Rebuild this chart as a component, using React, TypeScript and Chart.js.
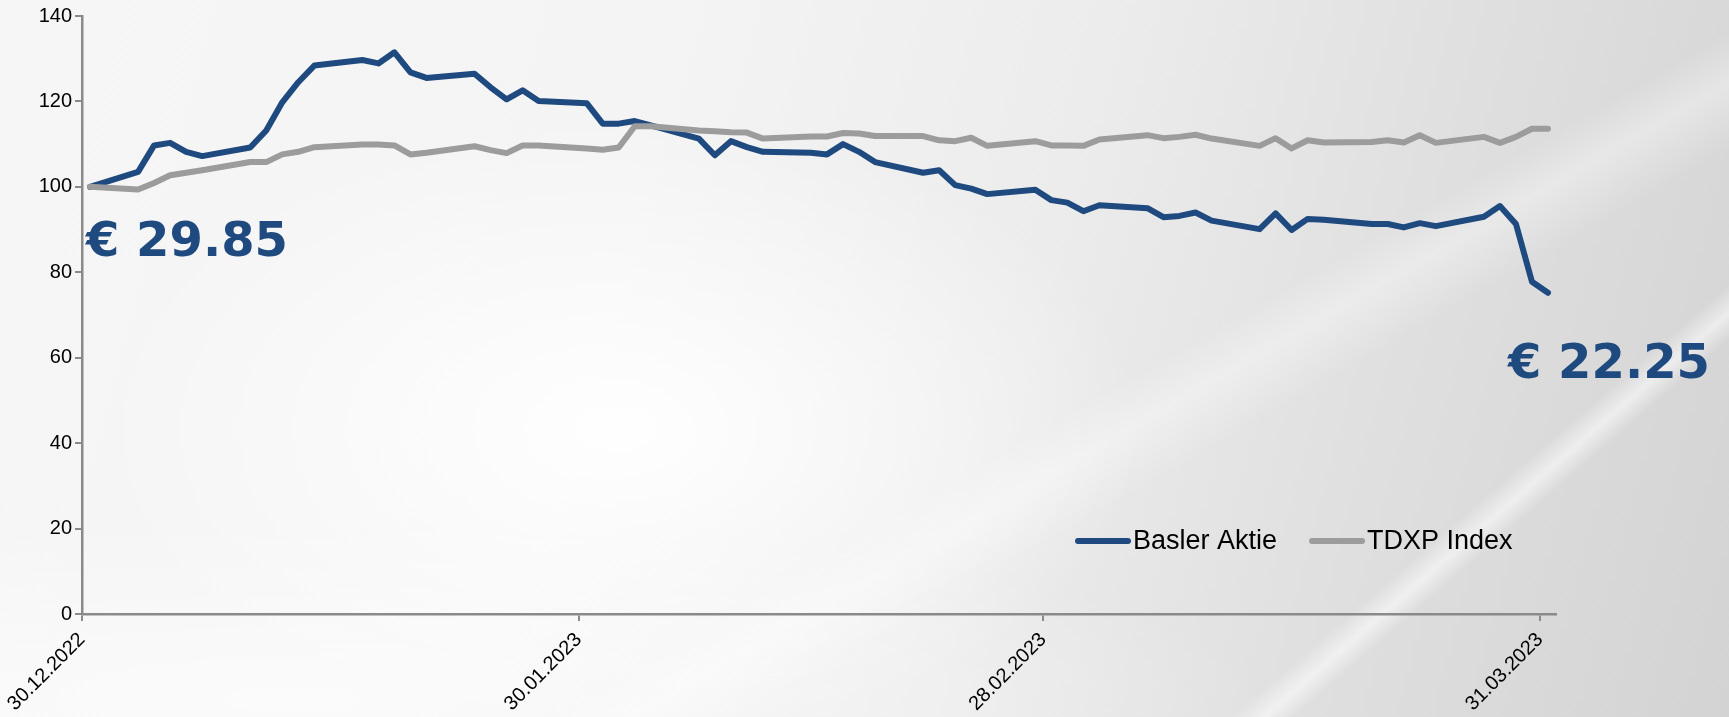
import React, { useEffect, useRef } from 'react';
import { Chart, registerables } from 'chart.js';

Chart.register(...registerables);

// ---- Data ----
const tradingDays = [
  '30.12.2022',
  '02.01.2023', '03.01.2023', '04.01.2023', '05.01.2023', '06.01.2023',
  '09.01.2023', '10.01.2023', '11.01.2023', '12.01.2023', '13.01.2023',
  '16.01.2023', '17.01.2023', '18.01.2023', '19.01.2023', '20.01.2023',
  '23.01.2023', '24.01.2023', '25.01.2023', '26.01.2023', '27.01.2023',
  '30.01.2023', '31.01.2023', '01.02.2023', '02.02.2023', '03.02.2023',
  '06.02.2023', '07.02.2023', '08.02.2023', '09.02.2023', '10.02.2023',
  '13.02.2023', '14.02.2023', '15.02.2023', '16.02.2023', '17.02.2023',
  '20.02.2023', '21.02.2023', '22.02.2023', '23.02.2023', '24.02.2023',
  '27.02.2023', '28.02.2023', '01.03.2023', '02.03.2023', '03.03.2023',
  '06.03.2023', '07.03.2023', '08.03.2023', '09.03.2023', '10.03.2023',
  '13.03.2023', '14.03.2023', '15.03.2023', '16.03.2023', '17.03.2023',
  '20.03.2023', '21.03.2023', '22.03.2023', '23.03.2023', '24.03.2023',
  '27.03.2023', '28.03.2023', '29.03.2023', '30.03.2023', '31.03.2023',
];

const baslerValues = [
  100,
  103.5, 109.7, 110.3, 108.2, 107.2,
  109.2, 113.2, 119.8, 124.5, 128.4,
  129.7, 128.9, 131.5, 126.8, 125.5,
  126.5, 123.3, 120.5, 122.6, 120.1,
  119.6, 114.8, 114.8, 115.4, 114.4,
  111.3, 107.4, 110.7, 109.3, 108.2,
  108.0, 107.6, 110.0, 108.2, 105.8,
  103.3, 103.9, 100.4, 99.6, 98.3,
  99.3, 96.9, 96.3, 94.3, 95.7,
  95.0, 92.9, 93.2, 94.0, 92.1,
  90.1, 93.8, 89.9, 92.5, 92.3,
  91.3, 91.3, 90.5, 91.5, 90.8,
  93.0, 95.5, 91.3, 77.8, 75.2,
];

const tdxpValues = [
  100,
  99.4, 100.9, 102.7, 103.3, 103.9,
  105.8, 105.8, 107.6, 108.2, 109.3,
  109.9, 109.9, 109.7, 107.6, 108.0,
  109.5, 108.6, 107.9, 109.7, 109.7,
  109.0, 108.7, 109.2, 114.2, 114.2,
  113.2, 113.0, 112.8, 112.7, 111.3,
  111.8, 111.8, 112.6, 112.5, 111.9,
  111.9, 110.9, 110.7, 111.5, 109.6,
  110.7, 109.7, 109.7, 109.6, 111.1,
  112.1, 111.4, 111.7, 112.2, 111.3,
  109.6, 111.4, 109.0, 110.9, 110.4,
  110.5, 110.9, 110.4, 112.1, 110.3,
  111.7, 110.3, 111.7, 113.6, 113.6,
];

const seriesLabels = ['Basler Aktie', 'TDXP Index'];
const tickDates = ['30.12.2022', '30.01.2023', '28.02.2023', '31.03.2023'];
const yMin = 0;
const yMax = 140;
const yStep = 20;
const startPriceLabel = '€ 29.85';
const endPriceLabel = '€ 22.25';

// ---- Styles ----
const BLUE = '#1F4A80';
const GREY = '#9C9C9C';
const AXIS = '#8A8A8A';
const W = 1729;
const H = 717;
const TICK_FONT = '"Liberation Sans", Arial, sans-serif';

function dayOffset(s: string): number {
  const [d, m, y] = s.split('.').map(Number);
  return Math.round((Date.UTC(y, m - 1, d) - Date.UTC(2022, 11, 30)) / 86400000);
}

const overlayPlugin = {
  id: 'overlay',
  afterDraw(chart: any) {
    const ctx = chart.ctx;
    ctx.save();
    // price annotations
    ctx.fillStyle = BLUE;
    ctx.font = 'bold 48px "DejaVu Sans"';
    ctx.textAlign = 'left';
    ctx.textBaseline = 'alphabetic';
    ctx.fillText(startPriceLabel, 86, 256);
    ctx.fillText(endPriceLabel, 1508, 378);

    // legend
    const legendY = 541;
    let x = 1075;
    ctx.font = '27px ' + TICK_FONT;
    ctx.textBaseline = 'middle';
    chart.data.datasets.forEach((ds: any) => {
      ctx.strokeStyle = ds.borderColor;
      ctx.lineWidth = 6;
      ctx.lineCap = 'round';
      ctx.beginPath();
      ctx.moveTo(x + 3, legendY);
      ctx.lineTo(x + 53, legendY);
      ctx.stroke();
      x += 58;
      ctx.fillStyle = '#000';
      ctx.fillText(ds.label, x, legendY + 1);
      x += ctx.measureText(ds.label).width + 32;
    });
    ctx.restore();
  },
};

export default function App() {
  const canvasRef = useRef<HTMLCanvasElement | null>(null);

  useEffect(() => {
    document.body.style.margin = '0';
    const canvas = canvasRef.current;
    if (!canvas) return;

    const toPoints = (vals: number[]) =>
      tradingDays.map((d, i) => ({ x: dayOffset(d), y: vals[i] }));

    const firstDay = dayOffset(tradingDays[0]);
    const lastDay = dayOffset(tradingDays[tradingDays.length - 1]);

    const chart = new Chart(canvas, {
      type: 'line',
      data: {
        datasets: [
          {
            label: seriesLabels[0],
            data: toPoints(baslerValues),
            borderColor: BLUE,
            backgroundColor: BLUE,
            borderWidth: 6,
            pointRadius: 0,
            tension: 0,
            borderCapStyle: 'round',
            borderJoinStyle: 'round',
            order: 1,
          },
          {
            label: seriesLabels[1],
            data: toPoints(tdxpValues),
            borderColor: GREY,
            backgroundColor: GREY,
            borderWidth: 6,
            pointRadius: 0,
            tension: 0,
            borderCapStyle: 'round',
            borderJoinStyle: 'round',
            order: 0,
          },
        ],
      },
      options: {
        animation: false,
        responsive: false,
        maintainAspectRatio: false,
        layout: { padding: { left: 0, right: W - 1556, top: 16, bottom: 0 } },
        plugins: {
          legend: { display: false },
          tooltip: { enabled: false },
        },
        scales: {
          x: {
            type: 'linear',
            min: firstDay - 0.5,
            max: lastDay + 0.5,
            afterBuildTicks: (scale: any) => {
              scale.ticks = tickDates.map((d) => ({ value: dayOffset(d) - 0.5 }));
            },
            afterFit: (scale: any) => {
              scale.height = H - 614;
            },
            ticks: {
              autoSkip: false,
              minRotation: 45,
              maxRotation: 45,
              padding: 7,
              color: '#000',
              font: { family: TICK_FONT, size: 20 },
              callback: (_v: any, i: number) => tickDates[i],
            },
            grid: {
              drawOnChartArea: false,
              drawTicks: true,
              tickLength: 7,
              color: AXIS,
              lineWidth: 2,
            },
            border: { display: true, color: AXIS, width: 2.5 },
          },
          y: {
            min: yMin,
            max: yMax,
            afterFit: (scale: any) => {
              scale.width = 82;
            },
            ticks: {
              stepSize: yStep,
              padding: 3,
              color: '#000',
              font: { family: TICK_FONT, size: 20 },
            },
            grid: {
              drawOnChartArea: false,
              drawTicks: true,
              tickLength: 7,
              color: AXIS,
              lineWidth: 2,
            },
            border: { display: true, color: AXIS, width: 2.5 },
          },
        },
      },
      plugins: [overlayPlugin],
    } as any);

    return () => chart.destroy();
  }, []);

  return (
    <div
      style={{
        position: 'absolute',
        left: 0,
        top: 0,
        width: W,
        height: H,
        overflow: 'hidden',
        background:
          'linear-gradient(139deg, rgba(255,255,255,0) 80.5%, rgba(255,255,255,0.55) 81.8%, rgba(255,255,255,0) 83%),' +
          'linear-gradient(150deg, rgba(255,255,255,0) 60%, rgba(255,255,255,0.35) 63%, rgba(255,255,255,0) 67%),' +
          'radial-gradient(ellipse 700px 420px at 620px 430px, rgba(255,255,255,0.95), rgba(255,255,255,0) 75%),' +
          'radial-gradient(ellipse 1400px 260px at 300px 700px, rgba(255,255,255,0.6), rgba(255,255,255,0) 70%),' +
          'linear-gradient(105deg, #f6f6f6 0%, #f4f4f4 35%, #ececec 58%, #dfdfdf 78%, #d3d3d3 100%)',
      }}
    >
      <canvas ref={canvasRef} width={W} height={H} style={{ display: 'block', width: W, height: H }} />
    </div>
  );
}
